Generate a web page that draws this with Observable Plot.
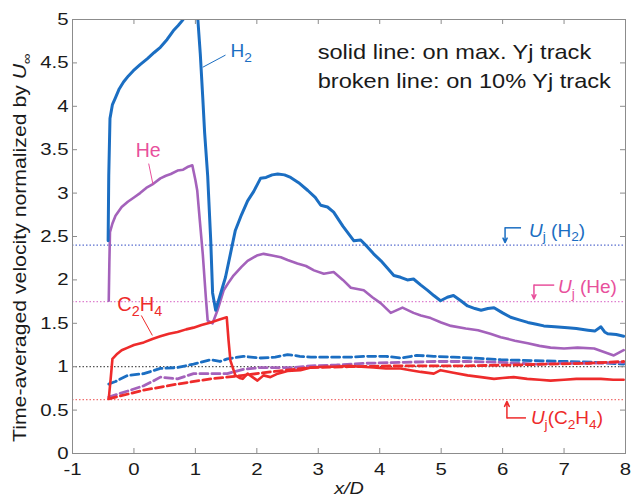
<!DOCTYPE html>
<html><head><meta charset="utf-8">
<script src="https://cdn.jsdelivr.net/npm/d3@7"></script>
<script src="https://cdn.jsdelivr.net/npm/@observablehq/plot@0.6"></script>
<style>body{margin:0;background:#fff} svg{display:block}</style>
</head><body><div id="chart"></div>
<script>
const xTicks = [-1,0,1,2,3,4,5,6,7,8];
const yTicks = [0,0.5,1,1.5,2,2.5,3,3.5,4,4.5,5];

// solid lines: on max. Yj track  [x/D, U/Uinf]
const h2Solid = [[-0.42,2.45],[-0.41,3.2],[-0.39,3.86],[-0.35,4.02],[-0.3,4.1],[-0.24,4.2],[-0.17,4.28],[-0.09,4.35],[-0.01,4.41],[0.1,4.48],[0.22,4.55],[0.33,4.62],[0.43,4.68],[0.54,4.77],[0.64,4.87],[0.72,4.93],[0.79,4.99],[0.9,5.1],[1.0,5.15],[1.04,5.0],[1.08,4.6],[1.12,4.1],[1.15,3.7],[1.2,3.2],[1.25,2.45],[1.28,1.85],[1.33,1.65],[1.41,1.84],[1.49,2.03],[1.57,2.3],[1.65,2.57],[1.75,2.75],[1.85,2.91],[1.95,3.02],[2.06,3.17],[2.15,3.18],[2.25,3.21],[2.34,3.22],[2.45,3.21],[2.55,3.18],[2.68,3.12],[2.83,3.03],[2.95,2.95],[3.04,2.86],[3.15,2.84],[3.25,2.78],[3.4,2.62],[3.58,2.45],[3.69,2.46],[3.8,2.38],[3.9,2.3],[4.02,2.22],[4.12,2.14],[4.23,2.05],[4.34,2.03],[4.45,2.0],[4.55,2.01],[4.67,1.94],[4.78,1.88],[4.88,1.82],[4.99,1.76],[5.1,1.8],[5.2,1.82],[5.32,1.76],[5.43,1.7],[5.55,1.67],[5.65,1.65],[5.76,1.67],[5.86,1.68],[6.0,1.62],[6.13,1.57],[6.27,1.54],[6.41,1.51],[6.55,1.49],[6.67,1.47],[6.85,1.46],[7.06,1.45],[7.2,1.44],[7.39,1.42],[7.5,1.41],[7.6,1.46],[7.66,1.4],[7.71,1.38],[7.85,1.37],[7.97,1.35]];
const heSolid = [[-0.41,1.76],[-0.4,2.2],[-0.39,2.55],[-0.35,2.65],[-0.3,2.74],[-0.2,2.84],[-0.1,2.9],[0.0,2.95],[0.1,3.0],[0.2,3.06],[0.3,3.1],[0.43,3.17],[0.52,3.2],[0.6,3.22],[0.71,3.26],[0.8,3.27],[0.87,3.3],[0.95,3.32],[1.0,3.15],[1.03,3.03],[1.07,2.7],[1.12,2.3],[1.17,1.8],[1.2,1.53],[1.28,1.5],[1.36,1.65],[1.46,1.88],[1.55,1.98],[1.62,2.05],[1.75,2.15],[1.85,2.22],[2.0,2.28],[2.11,2.3],[2.25,2.28],[2.39,2.26],[2.5,2.23],[2.66,2.19],[2.8,2.16],[2.93,2.11],[3.09,2.07],[3.25,2.09],[3.4,2.0],[3.53,1.91],[3.74,1.88],[3.88,1.8],[4.02,1.73],[4.18,1.62],[4.37,1.68],[4.55,1.62],[4.67,1.59],[4.83,1.56],[5.0,1.51],[5.16,1.47],[5.4,1.44],[5.6,1.42],[5.8,1.38],[5.97,1.34],[6.2,1.3],[6.41,1.27],[6.6,1.24],[6.78,1.22],[7.0,1.21],[7.22,1.22],[7.49,1.21],[7.65,1.17],[7.81,1.13],[7.97,1.19]];
const c2h4Solid = [[-0.41,0.63],[-0.38,0.85],[-0.35,1.09],[-0.27,1.15],[-0.2,1.19],[-0.1,1.22],[0.0,1.25],[0.16,1.28],[0.3,1.32],[0.43,1.35],[0.57,1.38],[0.71,1.4],[0.85,1.43],[0.97,1.45],[1.1,1.48],[1.25,1.51],[1.38,1.54],[1.51,1.57],[1.54,1.3],[1.57,1.07],[1.65,0.9],[1.72,0.87],[1.77,0.86],[1.85,0.92],[1.93,0.88],[2.01,0.84],[2.11,0.9],[2.22,0.88],[2.34,0.92],[2.5,0.95],[2.71,0.96],[2.88,0.99],[3.1,1.0],[3.3,1.0],[3.5,1.01],[3.7,1.0],[3.9,0.99],[4.1,0.98],[4.34,0.98],[4.5,0.96],[4.67,0.94],[4.88,0.92],[4.99,0.96],[5.2,0.93],[5.43,0.9],[5.65,0.88],[5.86,0.86],[6.0,0.87],[6.18,0.88],[6.4,0.86],[6.6,0.85],[6.78,0.84],[7.0,0.85],[7.2,0.86],[7.39,0.86],[7.6,0.86],[7.8,0.85],[7.97,0.85]];

// broken lines: on 10% Yj track
const h2Dashed = [[-0.41,0.8],[-0.3,0.83],[-0.1,0.9],[0.16,0.92],[0.43,0.98],[0.71,0.99],[0.97,1.03],[1.25,1.08],[1.4,1.06],[1.52,1.09],[1.78,1.12],[2.06,1.1],[2.3,1.11],[2.5,1.14],[2.7,1.12],[2.88,1.11],[3.2,1.11],[3.5,1.11],[3.8,1.12],[4.1,1.12],[4.34,1.1],[4.6,1.13],[4.88,1.12],[5.2,1.11],[5.5,1.1],[5.97,1.08],[6.5,1.07],[7.06,1.06],[7.5,1.05],[7.97,1.03]];
const heDashed = [[-0.41,0.65],[-0.1,0.72],[0.16,0.78],[0.3,0.83],[0.43,0.88],[0.71,0.86],[0.97,0.92],[1.25,0.92],[1.52,0.92],[1.78,0.97],[2.06,0.99],[2.6,0.99],[2.88,1.01],[3.3,1.02],[3.8,1.04],[4.34,1.05],[4.9,1.06],[5.43,1.06],[6.0,1.05],[6.5,1.03],[7.0,1.04],[7.5,1.04],[7.97,1.05]];
const c2h4Dashed = [[-0.41,0.63],[0.16,0.73],[0.71,0.8],[1.25,0.86],[1.78,0.9],[2.34,0.95],[2.88,0.99],[3.5,1.0],[4.34,1.01],[5.43,1.01],[6.2,1.02],[6.78,1.03],[7.4,1.04],[7.97,1.06]];

// jet velocity reference levels
const ujH2 = [2.4];
const ujHe = [1.75];
const ujC2H4 = [0.62];
const unity = [1.0];

// annotation texts (x/D, U/Uinf anchors)
const curveLabels = [
  {text: "H_2", x: 1.57, y: 4.64, c: "blue", fs: 19},
  {text: "He", x: 0.03, y: 3.49, c: "pink", fs: 19.5},
  {text: "C_2H_4", x: -0.27, y: 1.72, c: "red", fs: 20}
];
const leaders = [
  {x1: 1.12, y1: 4.45, x2: 1.49, y2: 4.59, c: "blue"},
  {x1: 0.24, y1: 3.34, x2: 0.31, y2: 3.1, c: "pink"},
  {x1: 0.12, y1: 1.59, x2: 0.30, y2: 1.36, c: "red"}
];
const ujLabels = [
  {text: "*U*_j (H_2)", x: 6.43, y: 2.57, c: "blue"},
  {text: "*U*_j (He)", x: 6.9, y: 1.92, c: "pink"},
  {text: "*U*_j(C_2H_4)", x: 6.46, y: 0.41, c: "red"}
];
const ujHooks = [
  {x1: 6.04, y1: 2.6, x2: 6.3, y2: 2.6, c: "blue"},
  {x1: 6.51, y1: 1.94, x2: 6.84, y2: 1.94, c: "pink"},
  {x1: 6.07, y1: 0.41, x2: 6.38, y2: 0.41, c: "red"}
];
const ujArrows = [
  {x1: 6.04, y1: 2.6, x2: 6.04, y2: 2.43, c: "blue"},
  {x1: 6.51, y1: 1.94, x2: 6.51, y2: 1.78, c: "pink"},
  {x1: 6.07, y1: 0.41, x2: 6.07, y2: 0.6, c: "red"}
];
const notes = [
  {text: "solid line: on max. Yj track", x: 2.99, y: 4.62},
  {text: "broken line: on 10% Yj track", x: 2.99, y: 4.29}
];
const yTitle = ["Time-averaged velocity normalized by *U*_∞"];
const xTitle = ["x/D"];

const colors = {blue: "#1b6ec2", purple: "#a462bb", red: "#ee2b2b", pink: "#e8509c"};
const pal = {blue: colors.blue, pink: colors.pink, red: colors.red};

const X = d => d[0], Y = d => d[1];
const frameGray = "#8c8c8c";

const plot = Plot.plot({
  width: 631, height: 498,
  marginLeft: 72, marginRight: 6, marginTop: 19, marginBottom: 45,
  x: {domain: [-1, 8]},
  y: {domain: [0, 5]},
  style: {fontFamily: "'Liberation Sans', Arial, Helvetica, sans-serif", color: "#1a1a1a", background: "#fff"},
  marks: [
    Plot.ruleY(ujH2, {y: d => d, stroke: "#5a6fd0", strokeDasharray: "1.5,2", strokeWidth: 1.2}),
    Plot.ruleY(ujHe, {y: d => d, stroke: "#de7fcf", strokeDasharray: "1.5,2", strokeWidth: 1.2}),
    Plot.ruleY(unity, {y: d => d, stroke: "#555", strokeDasharray: "1.5,2", strokeWidth: 1.2}),
    Plot.ruleY(ujC2H4, {y: d => d, stroke: "#f07070", strokeDasharray: "1.5,2", strokeWidth: 1.2}),
    Plot.line(h2Dashed, {x: X, y: Y, stroke: colors.blue, strokeWidth: 2.8, strokeDasharray: "8,4", clip: true}),
    Plot.line(heDashed, {x: X, y: Y, stroke: colors.purple, strokeWidth: 2.8, strokeDasharray: "8,4", clip: true}),
    Plot.line(c2h4Dashed, {x: X, y: Y, stroke: colors.red, strokeWidth: 2.8, strokeDasharray: "8,4", clip: true}),
    Plot.line(heSolid, {x: X, y: Y, stroke: colors.purple, strokeWidth: 2.6, clip: true}),
    Plot.line(c2h4Solid, {x: X, y: Y, stroke: colors.red, strokeWidth: 2.6, clip: true}),
    Plot.line(h2Solid, {x: X, y: Y, stroke: colors.blue, strokeWidth: 3, clip: true}),
    Plot.frame({stroke: frameGray}),
    Plot.tickX(xTicks, {x: d => d, insetTop: 429, stroke: frameGray}),
    Plot.tickX(xTicks, {x: d => d, insetBottom: 429, stroke: frameGray}),
    Plot.tickY(yTicks, {y: d => d, insetRight: 548, stroke: frameGray}),
    Plot.tickY(yTicks, {y: d => d, insetLeft: 548, stroke: frameGray}),
    Plot.axisX(xTicks, {anchor: "bottom", tickSize: 0, tickPadding: 9, label: null, fontSize: 17, fill: "#1a1a1a", tickFormat: d => String(d)}),
    Plot.axisY(yTicks, {anchor: "left", tickSize: 0, tickPadding: 4, label: null, fontSize: 17, fill: "#1a1a1a", tickFormat: d => String(d)}),
    Plot.text(yTitle, {text: d => d, frameAnchor: "left", rotate: -90, textAnchor: "middle", lineAnchor: "middle", dx: -52, dy: 11, fontSize: 17.7, fill: "#1a1a1a"}),
    Plot.text(xTitle, {text: d => d, frameAnchor: "bottom", textAnchor: "middle", lineAnchor: "middle", dy: 35, fontSize: 16.5, fontStyle: "italic", fill: "#1a1a1a"}),
    Plot.link(leaders, {x1: "x1", y1: "y1", x2: "x2", y2: "y2", stroke: d => pal[d.c], strokeWidth: 1}),
    Plot.text(curveLabels, {x: "x", y: "y", text: "text", fill: d => pal[d.c], textAnchor: "start", lineAnchor: "middle", fontSize: "fs"}),
    Plot.link(ujHooks, {x1: "x1", y1: "y1", x2: "x2", y2: "y2", stroke: d => pal[d.c], strokeWidth: 1.5}),
    Plot.arrow(ujArrows, {x1: "x1", y1: "y1", x2: "x2", y2: "y2", stroke: d => pal[d.c], strokeWidth: 1.5, headLength: 6, headAngle: 50}),
    Plot.text(ujLabels, {x: "x", y: "y", text: "text", fill: d => pal[d.c], textAnchor: "start", lineAnchor: "middle", fontSize: 19}),
    Plot.text(notes, {x: "x", y: "y", text: "text", fill: "#1a1a1a", textAnchor: "start", lineAnchor: "middle", fontSize: 20})
  ]
});
document.getElementById("chart").appendChild(plot);

// typography: horizontal stretch (decided by content, before rich-text rewriting)
const tickStrings = new Set([...xTicks, ...yTicks].map(String));
const titleStrings = new Set([...yTitle, ...xTitle]);
const noteStrings = new Set(notes.map(d => d.text));
d3.select(plot).selectAll("text").each(function () {
  const s = this.textContent;
  let k = 1;
  if (tickStrings.has(s) || titleStrings.has(s)) k = 1.2;
  else if (noteStrings.has(s)) k = 1.18;
  if (k === 1) return;
  const x0 = parseFloat(this.getAttribute("x")) || 0;
  const y0 = parseFloat(this.getAttribute("y")) || 0;
  const t = this.getAttribute("transform") || "";
  this.setAttribute("transform", `${t} translate(${x0},${y0}) scale(${k},1) translate(${-x0},${-y0})`.trim());
});

// rich text: *...* italic, _c subscript
function parseRich(s) {
  const segs = []; let italic = false, buf = "", i = 0;
  const push = (t, sub) => { if (t) segs.push({t, italic, sub}); };
  while (i < s.length) {
    const c = s[i];
    if (c === "*") { push(buf, false); buf = ""; italic = !italic; i++; }
    else if (c === "_") { push(buf, false); buf = ""; push(s[i + 1], true); i += 2; }
    else { buf += c; i++; }
  }
  push(buf, false);
  return segs;
}
d3.select(plot).selectAll("text").each(function () {
  const s = this.textContent;
  if (!/[*_]/.test(s)) return;
  const fs = parseFloat(getComputedStyle(this).fontSize) || 18;
  const el = d3.select(this);
  el.text(null);
  let shift = 0;
  for (const seg of parseRich(s)) {
    const target = seg.sub ? fs * 0.26 : 0;
    const ts = el.append("tspan").text(seg.t);
    if (seg.italic) ts.attr("font-style", "italic");
    if (seg.sub) ts.attr("font-size", (fs * 0.72).toFixed(1));
    if (target !== shift) { ts.attr("dy", (target - shift).toFixed(2)); shift = target; }
  }
});
</script>
</body></html>
